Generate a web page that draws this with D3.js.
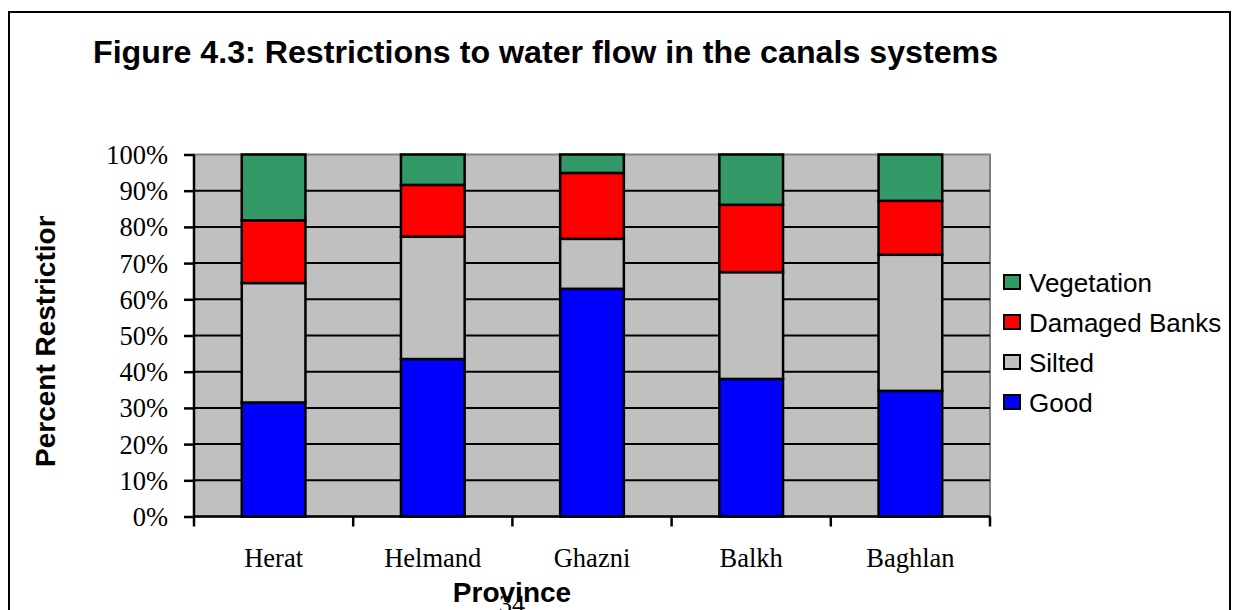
<!DOCTYPE html>
<html>
<head>
<meta charset="utf-8">
<script src="https://cdn.jsdelivr.net/npm/d3@7"></script>
<style>
  body { margin: 0; background: #fff; }
  svg { display: block; }
</style>
</head>
<body>
<div id="chart"></div>
<script>
// data (percent of canals per province)
var provinces = ["Herat", "Helmand", "Ghazni", "Balkh", "Baghlan"];
var good       = [31.5, 43.5, 62.9, 38.0, 34.7];
var silted     = [33.0, 33.8, 13.8, 29.5, 37.6];
var damaged    = [17.3, 14.3, 18.2, 18.6, 14.9];
var vegetation = [18.2,  8.4,  5.1, 13.9, 12.8];
var seriesNames = ["Good", "Silted", "Damaged Banks", "Vegetation"];
var yTicks = [0, 10, 20, 30, 40, 50, 60, 70, 80, 90, 100];

var colors = {
    "Good": "#0000ff",
    "Silted": "#c0c0c0",
    "Damaged Banks": "#ff0000",
    "Vegetation": "#339966"
};

var W = 1235, H = 610;
var margin = {top: 154.5, left: 194, right: 245, bottom: 93.5};
var width = W - margin.left - margin.right,
    height = H - margin.top - margin.bottom;

var svg = d3.select("#chart")
    .append("svg")
    .attr("width", W)
    .attr("height", H);

// outer frame
svg.append("rect")
    .attr("x", 9).attr("y", 12)
    .attr("width", 1221).attr("height", 640)
    .attr("fill", "none")
    .attr("stroke", "#000")
    .attr("stroke-width", 2);

svg.append("text")
    .attr("x", 93).attr("y", 63)
    .attr("font-family", "Liberation Sans, Arial, sans-serif")
    .attr("font-weight", "bold")
    .attr("font-size", 32.2)
    .attr("fill", "#000")
    .text("Figure 4.3: Restrictions to water flow in the canals systems");

var table = provinces.map(function(p, i) {
    return {province: p, "Good": good[i], "Silted": silted[i],
            "Damaged Banks": damaged[i], "Vegetation": vegetation[i]};
});

var stacked = d3.stack().keys(seriesNames)(table);

var xScale = d3.scaleBand().domain(provinces).range([0, width])
    .paddingInner(0.6).paddingOuter(0.3);
var xCat = d3.scaleBand().domain(provinces).range([0, width]);
var yScale = d3.scaleLinear().domain([0, 100]).range([height, 0]);

var g = svg.append("g")
    .attr("transform", "translate(" + margin.left + "," + margin.top + ")");

// plot area
g.append("rect")
    .attr("width", width).attr("height", height)
    .attr("fill", "#c0c0c0")
    .attr("stroke", "#808080")
    .attr("stroke-width", 2);

// gridlines
g.append("g")
    .selectAll("line")
    .data(yTicks.slice(1, -1))
    .join("line")
    .attr("x1", 0).attr("x2", width)
    .attr("y1", function(d) { return yScale(d); })
    .attr("y2", function(d) { return yScale(d); })
    .attr("stroke", "#000")
    .attr("stroke-width", 2);

// bars
g.append("g")
    .selectAll("g")
    .data(stacked)
    .join("g")
    .attr("fill", function(d) { return colors[d.key]; })
    .selectAll("rect")
    .data(function(d) { return d; })
    .join("rect")
    .attr("x", function(d) { return xScale(d.data.province); })
    .attr("width", xScale.bandwidth())
    .attr("y", function(d) { return yScale(d[1]); })
    .attr("height", function(d) { return yScale(d[0]) - yScale(d[1]); })
    .attr("stroke", "#000")
    .attr("stroke-width", 2.5);

// y axis
var yAxis = d3.axisLeft(yScale)
    .tickValues(yTicks)
    .tickSize(10)
    .tickPadding(16)
    .tickFormat(function(d) { return d + "%"; });

var yAxisGroup = g.append("g").call(yAxis);
yAxisGroup.select(".domain").attr("stroke", "#000").attr("stroke-width", 2.5)
    .attr("d", "M0," + height + "V0");
yAxisGroup.selectAll(".tick line").attr("stroke", "#000").attr("stroke-width", 2.5);
yAxisGroup.selectAll(".tick text")
    .attr("font-family", "Liberation Serif, Times New Roman, serif")
    .attr("font-size", 26.5)
    .attr("fill", "#000")
    .attr("dy", "0.34em");

// x axis, ticks between categories
var xAxisGroup = g.append("g")
    .attr("transform", "translate(0," + height + ")");
xAxisGroup.append("line")
    .attr("x1", 0).attr("x2", width)
    .attr("stroke", "#000").attr("stroke-width", 2.5);
xAxisGroup.selectAll(".xtick")
    .data(provinces.map(function(p) { return xCat(p); }).concat([width]))
    .join("line")
    .attr("class", "xtick")
    .attr("x1", function(d) { return d; })
    .attr("x2", function(d) { return d; })
    .attr("y1", 0).attr("y2", 10)
    .attr("stroke", "#000").attr("stroke-width", 2.5);
xAxisGroup.selectAll(".xlabel")
    .data(provinces)
    .join("text")
    .attr("class", "xlabel")
    .attr("x", function(d) { return xCat(d) + xCat.bandwidth() / 2; })
    .attr("y", 50)
    .attr("text-anchor", "middle")
    .attr("font-family", "Liberation Serif, Times New Roman, serif")
    .attr("font-size", 26.5)
    .text(function(d) { return d; });

// axis titles (y title is cut at the top, as in the original)
svg.append("clipPath").attr("id", "ytclip")
    .append("rect").attr("x", 0).attr("y", 216).attr("width", 90).attr("height", 300);
svg.append("g")
    .attr("clip-path", "url(#ytclip)")
    .append("text")
    .attr("transform", "translate(55,467) rotate(-90)")
    .attr("font-family", "Liberation Sans, Arial, sans-serif")
    .attr("font-weight", "bold")
    .attr("font-size", 28)
    .text("Percent Restriction");

svg.append("text")
    .attr("x", 512).attr("y", 602)
    .attr("text-anchor", "middle")
    .attr("font-family", "Liberation Sans, Arial, sans-serif")
    .attr("font-weight", "bold")
    .attr("font-size", 28)
    .text("Province");

// page number bleeding in from the document
svg.append("text")
    .attr("x", 512).attr("y", 613)
    .attr("text-anchor", "middle")
    .attr("font-family", "Liberation Serif, Times New Roman, serif")
    .attr("font-size", 26)
    .text("34");

// legend
var legendOrder = ["Vegetation", "Damaged Banks", "Silted", "Good"];
var legend = svg.append("g").attr("transform", "translate(1003,282)");
var items = legend.selectAll("g")
    .data(legendOrder)
    .join("g")
    .attr("transform", function(d, i) { return "translate(0," + (i * 40) + ")"; });
items.append("rect")
    .attr("x", 1).attr("y", -7)
    .attr("width", 16).attr("height", 14)
    .attr("fill", function(d) { return colors[d]; })
    .attr("stroke", "#000")
    .attr("stroke-width", 2);
items.append("text")
    .attr("x", 26).attr("y", 9.5)
    .attr("font-family", "Liberation Sans, Arial, sans-serif")
    .attr("font-size", 26)
    .text(function(d) { return d; });
</script>
</body>
</html>
